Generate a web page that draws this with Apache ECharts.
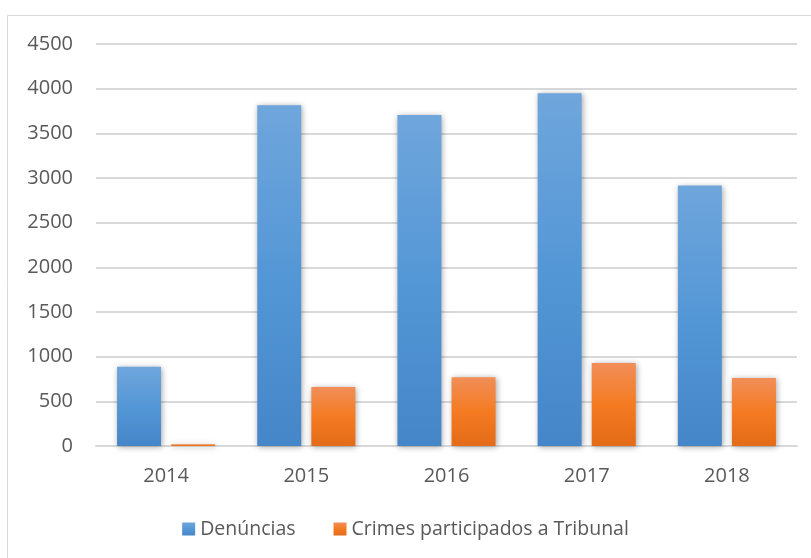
<!DOCTYPE html>
<html>
<head>
<meta charset="utf-8">
<script src="https://cdn.jsdelivr.net/npm/echarts@6/dist/echarts.min.js"></script>
<style>
  html, body { margin: 0; padding: 0; background: #fff; }
  #chart { width: 811px; height: 558px; }
</style>
</head>
<body>
<div id="chart"></div>
<script>
var years = ['2014', '2015', '2016', '2017', '2018'];
var denuncias = [888, 3815, 3705, 3950, 2915];
var crimes = [20, 660, 770, 930, 760];

var chart = echarts.init(document.getElementById('chart'), null, { renderer: 'canvas' });

var blueFill = new echarts.graphic.LinearGradient(0, 0, 0, 1, [
  { offset: 0, color: '#6fa6dc' },
  { offset: 0.5, color: '#5497d6' },
  { offset: 1, color: '#4486c8' }
]);
var orangeFill = new echarts.graphic.LinearGradient(0, 0, 0, 1, [
  { offset: 0, color: '#f18e58' },
  { offset: 0.5, color: '#f47b22' },
  { offset: 1, color: '#e46b17' }
]);

chart.setOption({
  animation: false,
  textStyle: { fontFamily: 'Open Sans' },
  graphic: [{
    type: 'rect',
    shape: { x: 7.5, y: 15.5, width: 820, height: 560 },
    style: { fill: 'none', stroke: '#d9d9d9', lineWidth: 1 },
    silent: true
  }],
  grid: { left: 96, right: 14, top: 44, bottom: 112, containLabel: false },
  legend: {
    top: 514,
    left: 'center',
    itemWidth: 13,
    itemHeight: 13,
    itemGap: 38,
    icon: 'rect',
    textStyle: { fontSize: 19.5, color: '#595959', fontFamily: 'Open Sans' },
    data: ['Denúncias', 'Crimes participados a Tribunal']
  },
  xAxis: {
    type: 'category',
    data: years,
    axisLine: { lineStyle: { color: '#d9d9d9', width: 2 } },
    axisTick: { show: false },
    axisLabel: { fontSize: 20, color: '#595959', margin: 20 }
  },
  yAxis: {
    type: 'value',
    min: 0,
    max: 4500,
    interval: 500,
    axisLine: { show: false },
    axisTick: { show: false },
    axisLabel: {
      fontSize: 20,
      color: '#595959',
      margin: 23,
      formatter: function (v) { return String(v); }
    },
    splitLine: { lineStyle: { color: '#d9d9d9', width: 2 } }
  },
  series: [{
    name: 'Denúncias',
    type: 'bar',
    data: denuncias,
    barWidth: 44,
    barGap: '23%',
    itemStyle: {
      color: blueFill,
      shadowBlur: 6,
      shadowColor: 'rgba(0,0,0,0.35)',
      shadowOffsetX: 1,
      shadowOffsetY: 1
    }
  }, {
    name: 'Crimes participados a Tribunal',
    type: 'bar',
    data: crimes,
    barWidth: 44,
    itemStyle: {
      color: orangeFill,
      shadowBlur: 6,
      shadowColor: 'rgba(0,0,0,0.35)',
      shadowOffsetX: 1,
      shadowOffsetY: 1
    }
  }]
});
</script>
</body>
</html>
